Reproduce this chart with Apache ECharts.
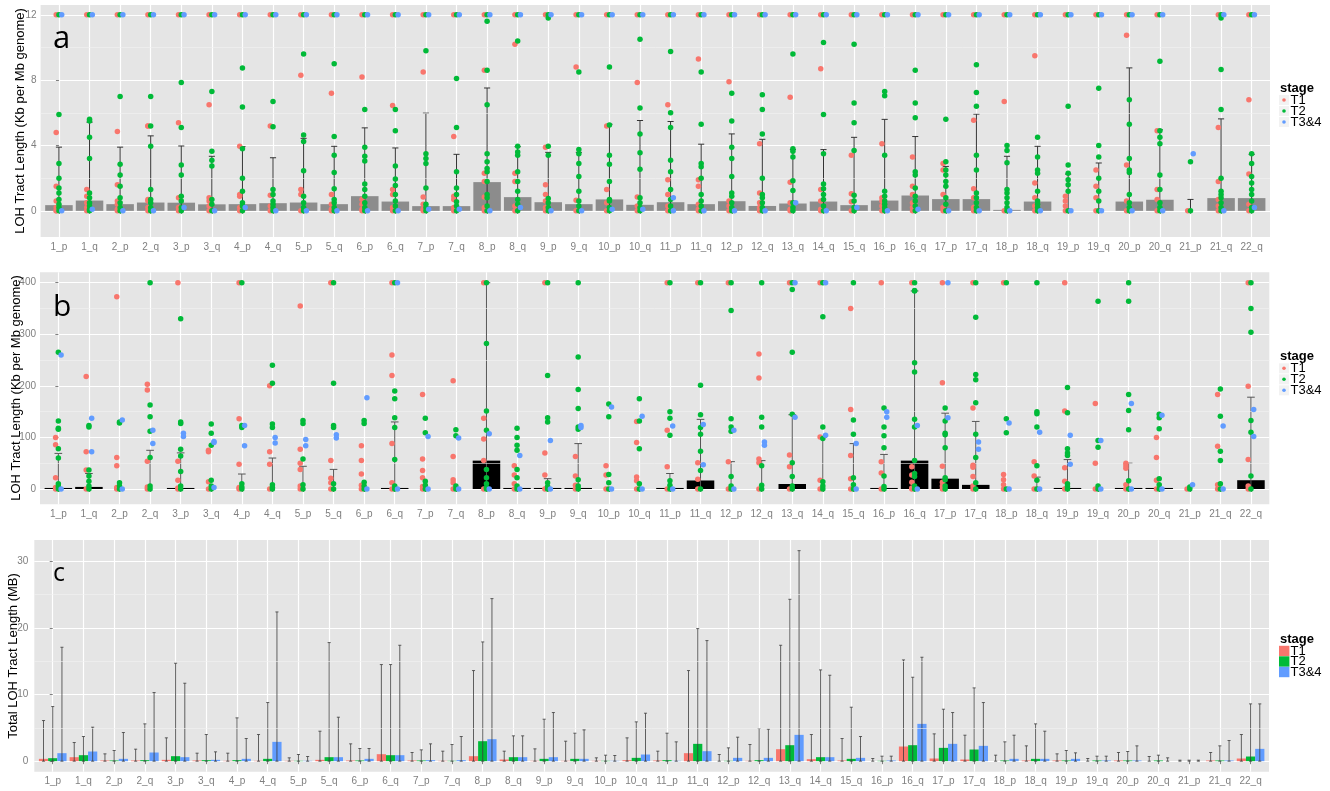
<!DOCTYPE html>
<html><head><meta charset="utf-8">
<script src="https://cdn.jsdelivr.net/npm/echarts@6/dist/echarts.min.js"></script>
<style>html,body{margin:0;padding:0;background:#fff}#c{width:1330px;height:791px}</style>
</head><body><div id="c"></div><script>
const categories = ['1_p','1_q','2_p','2_q','3_p','3_q','4_p','4_q','5_p','5_q','6_p','6_q','7_p','7_q','8_p','8_q','9_p','9_q','10_p','10_q','11_p','11_q','12_p','12_q','13_q','14_q','15_q','16_p','16_q','17_p','17_q','18_p','18_q','19_p','19_q','20_p','20_q','21_p','21_q','22_q'];
const stageNames = ['T1','T2','T3&4'];
const stageColors = ['#F8766D','#00BA38','#619CFF'];

// ---- Panel a: LOH tract length (Kb per Mb genome), capped at 12
const aTicks = [0,4,8,12];
const aMinor = [2,6,10];
const aMean = [0.35,0.63,0.41,0.51,0.5,0.4,0.41,0.47,0.51,0.41,0.9,0.57,0.29,0.29,1.76,0.84,0.53,0.41,0.7,0.37,0.53,0.41,0.59,0.3,0.45,0.57,0.35,0.63,0.94,0.72,0.72,0.06,0.57,0,0,0.57,0.68,0,0.78,0.78];
const aErr = [3.9,5.43,3.9,4.59,3.97,3.34,3.93,3.25,4.44,3.95,5.08,3.85,5.98,3.46,7.52,3.93,3.58,3.58,5.3,5.53,5.47,4.08,4.71,4.38,3.75,3.75,4.5,5.6,4.55,2.72,5.92,3.34,3.95,2.25,2.93,8.75,4.96,0.7,5.63,3.46];
const aT1 = [[12,4.8,1.5,0.6,0.2,0,0],[12,1.3,0.9,0.5,0.2,0],[12,4.85,1.6,0.6,0.4,0.1,0],[12,5.2,5.2,0.7,0.6,0.2,0],[12,5.4,0.8,0.2,0],[12,6.5,0.8,0.6,0.3,0],[12,3.95,1.0,0.9,0.2,0],[12,5.2,0.95,0.3,0],[12,8.3,1.3,1.0,0],[12,7.2,1.0,0.4,0.1,0],[12,8.2,0.7,0.4,0.1,0],[12,6.45,1.3,1.0,0.2,0],[12,8.5,0.85,0.4,0.1,0],[12,4.55,0.9,0.7,0.2,0],[12,8.6,2.3,1.8,0.85,0.2,0],[12,10.2,2.3,1.8,0.3,0],[12,3.9,1.6,1.0,0.6,0.2,0],[12,8.8,0.65,0],[12,5.2,1.3,0.5,0],[12,7.85,0.85,0.3,0],[12,6.5,1.9,1.0,0.3,0],[12,9.3,1.9,1.5,0.4,0.1,0],[12,7.9,0.6,0.3,0],[12,4.1,1.1,0.5,0.2,0],[12,6.95,1.75,0.5,0.1,0],[12,8.7,1.3,0.6,0.1,0],[12,3.4,1.05,0.55,0],[12,4.1,0.8,0.6,0.3,0],[12,3.3,1.5,1.0,0.5,0.2,0],[12,2.9,2.5,1.0,0.2,0],[12,5.55,1.35,0.8,0.2,0],[12,6.7,0],[12,9.5,1.7,0.8,0.3,0],[12,0.9,0.6,0.3,0],[12,2.5,1.5,0.8,0],[12,10.75,2.8,0.6,0],[12,4.9,1.3,0.7,0],[0],[12,5.1,1.8,0.7,0.3,0],[12,6.8,2.25,0.4,0]];
const aT2 = [[12,5.9,2.9,2.0,1.4,1.1,0.7,0.4,0.2,0],[12,5.6,5.5,4.5,3.2,1.1,0.8,0.5,0.3,0.1,0],[12,7.0,2.85,2.2,1.5,0.8,0.5,0.2,0],[12,7.0,5.2,3.95,1.3,0.7,0.5,0.2,0],[12,7.85,5.1,2.8,2.2,0.9,0.6,0.2,0],[12,7.3,3.65,3.1,2.75,0.7,0.4,0],[12,8.75,6.35,3.8,2.0,1.2,0.5,0.3,0],[12,6.7,5.15,1.3,1.0,0.6,0.4,0.2,0],[12,9.6,4.65,4.25,2.45,0.9,0.5,0.2,0],[12,9.0,4.55,3.4,2.35,1.35,0.7,0.5,0.2,0],[12,6.2,3.9,3.35,3.05,1.65,1.3,0.9,0.5,0.2,0],[12,6.2,4.9,2.75,1.95,1.55,1.0,0.6,0.3,0],[12,9.8,3.5,3.2,2.9,1.4,0.4,0.2,0],[12,8.1,5.1,2.4,1.4,1.0,0.55,0.3,0],[12,11.6,8.6,6.5,3.5,3.0,2.6,2.4,1.8,1.0,0.8,0.3,0],[12,10.4,3.95,3.6,3.4,2.4,1.8,1.2,0.7,0.4,0],[12,11.8,3.95,3.4,0.75,0.5,0.2,0],[12,8.5,3.75,3.5,2.9,2.1,1.2,0.6,0.3,0],[12,8.8,5.25,3.4,2.85,1.8,0.7,0.6,0.2,0],[12,10.5,6.3,4.7,3.55,2.55,0.8,0.5,0.2,0],[12,9.75,6.0,5.1,3.1,2.4,1.3,0.7,0.3,0],[12,8.5,5.3,2.9,2.7,2.0,1.0,0.6,0.3,0],[12,7.2,5.5,3.9,3.2,2.1,1.1,0.9,0.5,0.2,0],[12,7.1,6.2,4.7,2.0,1.0,0.8,0.5,0.2,0],[12,9.6,3.8,3.65,3.3,1.85,1.25,0.5,0.2,0],[12,10.3,5.9,3.5,1.65,1.35,1.0,0.7,0.3,0],[12,10.2,6.6,5.4,3.7,0.95,0.6,0.2,0],[12,7.3,7.05,3.4,1.2,0.9,0.6,0.4,0.2,0],[12,8.6,6.6,5.7,2.4,2.2,1.4,0.9,0.6,0.3,0],[12,5.6,3.0,2.5,2.2,1.8,1.5,0.8,0.4,0],[12,8.95,7.25,6.4,3.4,2.5,1.1,0.8,0.5,0.2,0],[12,4.0,3.7,2.95,1.3,1.1,0.8,0.5,0.2,0],[12,4.5,3.3,2.5,2.3,1.2,0.6,0.4,0.2,0],[12,6.4,2.8,2.3,1.9,1.6,1.2,0],[12,7.5,4.0,3.3,2.0,1.2,0.6,0],[12,6.8,5.3,3.2,2.5,2.35,1.0,0.5,0.2,0],[12,9.15,4.9,4.5,4.1,2.2,1.3,0.5,0.2,0],[3.0,0],[12,11.8,8.65,6.2,2.0,1.2,1.0,0.8,0.5,0.2,0],[12,3.5,2.9,2.1,1.7,1.3,1.0,0.6,0.2,0]];
const aT3 = [[12,0],[12,0.1],[12,0],[12,0],[12,0.2],[12,0],[12,0.2],[12,0],[12,0],[12,0],[12,0],[12,0],[12,0.1],[12,0.1],[12,0],[12,0.2],[12,0],[12,0],[12,0.1],[12,0.1],[12,0.8,0],[12,0],[12,0],[12,0],[12,0.5],[12,0],[12,0.2],[12,0],[12,0.1],[12,0],[12,0],[12,0],[12,0],[12,0],[12,0],[12,0],[12,0],[3.5],[12,0],[12,0.2]];

// ---- Panel b: LOH tract length (Kb per Mb genome), capped at 400
const bTicks = [0,100,200,300,400];
const bMinor = [50,150,250,350];
const bMean = [2,4,0,0,2,0,0,0,0,0,0,2,0,0,55,2,2,2,0,0,2,16.5,0,0,9.7,0,0,2,55,20,8,0,0,2,0,2,2,0,0,17];
const bErr = [69,30,null,75,70,null,29,60,44,38,null,130,null,null,400,null,20,88,null,null,30,135,53,55,144,100,88,67,384,147,131,null,23,57,null,50,null,null,null,178];
const bT1 = [[100,86,22,3,0],[218,72,37,0],[373,61,45,3,0],[203,192,54,4,0],[400,54,17,2,0],[75,72,14,0],[400,136,48,3,0],[200,72,48,0],[355,77,50,38,6,0],[400,55,21,12,0],[84,55,29,7,0],[400,260,220,88,12,0],[183,58,36,22,5,0],[210,63,18,12,0],[400,137,97,55,0],[45,27,10,0],[400,70,27,0],[63,25,7,0],[45,27,0],[131,90,23,16,0],[400,114,43,0],[400,51,19,0],[400,53,0],[262,215,58,51,0],[400,66,43,0],[400,101,17,0],[350,154,65,20,0],[400,53,31,0],[400,43,27,13,2,0],[400,206,44,13,6,0],[400,157,46,42,24,6,0],[400,28,18,8,0],[53,25,0],[400,151,41,15,0],[166,50,0],[50,45,40,8,0],[100,61,17,0],[0],[183,83,8,0],[400,199,57,6,0]];
const bT2 = [[265,132,118,116,78,60,10,5,0],[123,120,37,25,15,6,0],[130,128,12,6,0],[400,163,140,112,61,6,0],[330,130,127,77,64,34,6,0],[126,108,85,17,6,0],[400,123,119,10,4,0],[240,205,126,119,8,3,0],[133,127,58,8,0],[400,205,123,119,10,0],[133,127,13,6,0],[400,190,175,138,119,57,6,0],[137,109,15,7,0],[115,103,6,0],[400,282,151,114,38,22,10,3,0],[118,100,85,75,38,22,6,0],[400,220,138,130,12,5,0],[400,256,193,156,120,116,18,6,0],[165,140,28,12,0],[175,132,78,10,0],[400,150,137,104,16,7,0],[400,201,144,119,106,73,36,0],[400,346,136,120,112,24,6,0],[400,139,120,45,7,0],[400,387,265,145,51,24,6,0],[400,334,120,98,14,6,0],[400,134,106,22,8,0],[157,120,103,80,25,5,0],[400,385,384,245,227,135,120,55,30,24,6,0],[157,132,108,105,80,22,18,6,0],[400,333,222,212,167,106,61,12,0],[400,136,109,0],[400,150,146,120,45,17,0],[197,148,78,70,65,10,5,0],[364,94,81,6,0],[400,364,183,152,115,16,0],[145,138,117,20,8,0],[4,0],[194,141,73,55,10,0],[400,350,304,133,110,25,0]];
const bT3 = [[260,0],[137,72],[134,0],[114,88],[108,102],[92,90,3],[123,84],[100,89],[96,84],[105,99],[177,0],[400,0],[102,0],[99,0],[107,0],[65,0],[94,0],[123,119],[159,0],[141,0],[122,0],[125,47],[114,0],[91,85],[400,139],[400,104],[88,0],[150,139],[123,0],[400,138],[91,77],[128,0],[110,0],[104,48],[94,0],[166,0],[143,0],[8],[122,0],[154,102]];

// ---- Panel c: total LOH tract length (MB) by stage
const cTicks = [0,10,20,30];
const cMinor = [5,15,25];
const cT1 = [0.35,0.6,0.1,0.1,0.2,0.1,0.05,0.05,0.05,0.2,0.1,1.05,0.1,0.05,0.75,0.25,0.05,0.05,0.05,0.15,0.1,1.2,0,0.05,1.8,0.3,0.1,0,2.2,0.4,0.25,0,0.1,0.1,0,0.1,0,0,0.1,0.4];
const cT2 = [0.45,0.9,0.1,0.15,0.75,0.15,0.15,0.35,0.05,0.6,0.1,0.9,0.1,0.05,3.0,0.6,0.35,0.35,0.05,0.5,0.15,2.6,0.05,0.15,2.4,0.6,0.35,0.05,2.4,2.0,1.75,0.1,0.35,0.1,0.1,0.1,0.1,0,0.1,0.7];
const cT3 = [1.2,1.45,0.35,1.3,0.6,0.2,0.35,2.9,0.05,0.6,0.35,0.9,0.15,0.15,3.3,0.6,0.6,0.35,0.05,1.0,0.05,1.5,0.5,0.5,3.95,0.6,0.5,0.1,5.6,2.6,2.3,0.35,0.35,0.35,0.1,0.1,0,0,0.1,1.85];
const cT1Err = [6.1,2.8,1.1,1.8,3.5,1.2,1.2,4.0,0.5,4.5,2.6,14.5,1.3,1.5,13.6,1.5,1.85,3.0,0.5,3.5,1.5,13.6,1.0,2.5,17.4,4.0,3.4,0.4,15.2,4.1,3.9,0.9,2.3,1.1,0.4,1.3,0.7,0.15,1.3,4.0];
const cT2Err = [8.2,3.7,1.6,5.6,14.7,4.0,6.5,8.8,1.0,17.8,1.9,14.5,1.7,2.5,17.9,3.8,6.3,4.2,0.9,5.9,4.2,19.9,2.0,4.9,24.3,13.7,8.1,0.75,12.6,7.8,11.0,2.9,5.6,1.6,0.75,1.45,0.9,0.15,2.3,8.6];
const cT3Err = [17.1,5.1,4.3,10.3,11.7,1.4,3.4,22.4,0.7,6.6,1.9,17.4,2.6,3.7,24.4,3.8,7.3,4.7,0.85,7.2,2.9,18.1,3.6,4.8,31.6,12.9,3.7,0.75,15.6,7.3,8.8,3.9,4.5,1.25,0.75,2.3,0.5,0.15,3.1,8.6];

// ---------------- build ----------------
const FONT = '"Liberation Sans", Arial, sans-serif';
const idx = categories.map((_, i) => i);
const grids = [
  {left: 40.6, top: 5, width: 1229.4, height: 232},
  {left: 40, top: 272.3, width: 1229.3, height: 232},
  {left: 34.3, top: 540, width: 1234.7, height: 231.7}
];
const yRanges = [[-1.6, 12.6], [-29.7, 420.2], [-1.58, 33.2]];
const yTicks = [aTicks, bTicks, cTicks];
const yMinor = [aMinor, bMinor, cMinor];
const yLabelMargin = [4, 4, 6];

const xAxes = grids.map((g, gi) => ({
  type: 'value', gridIndex: gi, min: -0.6, max: 39.6,
  axisLine: {show: false},
  axisTick: {show: true, customValues: idx, length: 3, lineStyle: {color: '#7F7F7F'}},
  axisLabel: {customValues: idx, formatter: v => categories[Math.round(v)], color: '#7F7F7F', fontSize: 10, fontFamily: FONT, margin: 5},
  splitLine: {show: true, lineStyle: {color: '#FFFFFF', width: 1.2}}
}));
const yAxes = grids.map((g, gi) => ({
  type: 'value', gridIndex: gi, min: yRanges[gi][0], max: yRanges[gi][1],
  axisLine: {show: false},
  axisTick: {show: true, customValues: yTicks[gi], length: 3, lineStyle: {color: '#7F7F7F'}},
  axisLabel: {customValues: yTicks[gi], color: '#7F7F7F', fontSize: 10, fontFamily: FONT, margin: yLabelMargin[gi]},
  splitLine: {show: true, lineStyle: {color: '#FFFFFF', width: 1.2}}
}));

function minorSeries(gi) {
  return {type: 'line', xAxisIndex: gi, yAxisIndex: gi, data: [], z: 1, silent: true,
    markLine: {silent: true, symbol: 'none', animation: false, label: {show: false},
      lineStyle: {color: '#F2F2F2', width: 0.6, type: 'solid'},
      data: yMinor[gi].map(v => ({yAxis: v}))}};
}
function barSeries(gi, xs, vals, width, color, z) {
  return {type: 'custom', xAxisIndex: gi, yAxisIndex: gi, z: z, silent: true,
    data: vals.map((v, i) => [xs[i], v]),
    renderItem(params, api) {
      const x = api.value(0), v = api.value(1);
      const a = api.coord([x - width / 2, 0]), b = api.coord([x + width / 2, v]);
      return {type: 'rect', shape: {x: a[0], y: Math.min(a[1], b[1]), width: b[0] - a[0], height: Math.abs(a[1] - b[1])},
        style: {fill: color}};
    }};
}
function errSeries(gi, xs, tops, capW, color, lw, bottomCap, z) {
  const data = [];
  tops.forEach((t, i) => { if (t !== null) data.push([xs[i], t]); });
  return {type: 'custom', xAxisIndex: gi, yAxisIndex: gi, z: z, silent: true, data,
    renderItem(params, api) {
      const x = api.value(0), t = api.value(1);
      const p0 = api.coord([x, 0]), p1 = api.coord([x, t]);
      const hw = api.size([capW, 0])[0] / 2;
      const st = {stroke: color, lineWidth: lw, fill: null};
      const ch = [
        {type: 'line', shape: {x1: p0[0], y1: p0[1], x2: p1[0], y2: p1[1]}, style: st},
        {type: 'line', shape: {x1: p1[0] - hw, y1: p1[1], x2: p1[0] + hw, y2: p1[1]}, style: st}
      ];
      if (bottomCap) ch.push({type: 'line', shape: {x1: p0[0] - hw, y1: p0[1], x2: p0[0] + hw, y2: p0[1]}, style: st});
      return {type: 'group', children: ch};
    }};
}
const dotOffset = [-0.09, 0, 0.09];
function dotSeries(gi, lists, s) {
  const data = [];
  lists.forEach((arr, i) => arr.forEach(v => data.push([i + dotOffset[s], v])));
  return {type: 'scatter', name: stageNames[s], xAxisIndex: gi, yAxisIndex: gi, z: 5, silent: true,
    symbol: 'circle', symbolSize: 5.5, itemStyle: {color: stageColors[s], opacity: 1}, data};
}

const series = [];
grids.forEach((g, gi) => series.push(minorSeries(gi)));
// panel a
series.push(barSeries(0, idx, aMean, 0.9, '#8C8C8C', 2));
series.push(errSeries(0, idx, aErr, 0.2, '#333333', 1, false, 3));
[aT1, aT2, aT3].forEach((l, s) => series.push(dotSeries(0, l, s)));
// panel b
series.push(barSeries(1, idx, bMean, 0.9, '#000000', 2));
series.push(errSeries(1, idx, bErr, 0.25, '#555555', 1, false, 3));
[bT1, bT2, bT3].forEach((l, s) => series.push(dotSeries(1, l, s)));
// panel c
const cVals = [cT1, cT2, cT3], cErrs = [cT1Err, cT2Err, cT3Err];
const cOff = [-0.3, 0, 0.3];
cVals.forEach((vals, s) => {
  const xs = idx.map(i => i + cOff[s]);
  series.push(barSeries(2, xs, vals, 0.3, stageColors[s], 2));
});
cErrs.forEach((errs, s) => {
  const xs = idx.map(i => i + cOff[s]);
  series.push(errSeries(2, xs, errs, 0.1, 'rgba(60,60,60,0.8)', 1, true, 3));
});

// graphics: panel letters, axis titles, legends
const graphic = [];
[['a', 53, 39, 31], ['b', 53, 307, 30], ['c', 53, 574, 25]].forEach(([t, x, y, fs]) =>
  graphic.push({type: 'text', x, y, z: 100, style: {text: t, fontSize: fs, fontFamily: '"Open Sans", sans-serif', fill: '#000', textVerticalAlign: 'middle'}}));
[['LOH Tract Length (Kb per Mb genome)', 20.5, 121], ['LOH Tract Length (Kb per Mb genome)', 16, 388], ['Total LOH Tract Length (MB)', 13.5, 656]].forEach(([t, x, y]) =>
  graphic.push({type: 'text', x, y, rotation: Math.PI / 2, z: 100, style: {text: t, fontSize: 13, fontFamily: FONT, fill: '#000', textAlign: 'center', textVerticalAlign: 'middle'}}));
function legend(titleY, rowYs, boxes) {
  graphic.push({type: 'text', x: 1280, y: titleY, z: 100, style: {text: 'stage', fontSize: 13, fontWeight: 'bold', fontFamily: FONT, fill: '#000', textVerticalAlign: 'middle'}});
  rowYs.forEach((y, s) => {
    if (boxes) {
      graphic.push({type: 'rect', z: 100, shape: {x: 1279, y: y - 5.2, width: 10.4, height: 10.4}, style: {fill: stageColors[s]}});
    } else {
      graphic.push({type: 'rect', z: 100, shape: {x: 1279, y: y - 5, width: 10, height: 10}, style: {fill: '#F2F2F2'}});
      graphic.push({type: 'circle', z: 101, shape: {cx: 1284, cy: y, r: 1.8}, style: {fill: stageColors[s]}});
    }
    graphic.push({type: 'text', x: 1290.5, y: y, z: 100, style: {text: stageNames[s], fontSize: 13, fontFamily: FONT, fill: '#000', textVerticalAlign: 'middle'}});
  });
}
legend(88, [100, 111, 122], false);
legend(356, [368.3, 379.3, 390.3], false);
legend(639, [651, 661.5, 672], true);

const chart = echarts.init(document.getElementById('c'));
chart.setOption({
  animation: false,
  backgroundColor: '#FFFFFF',
  textStyle: {fontFamily: FONT},
  grid: grids.map(g => Object.assign({show: true, backgroundColor: '#E5E5E5', borderWidth: 0}, g)),
  xAxis: xAxes,
  yAxis: yAxes,
  series,
  graphic
});
</script></body></html>
